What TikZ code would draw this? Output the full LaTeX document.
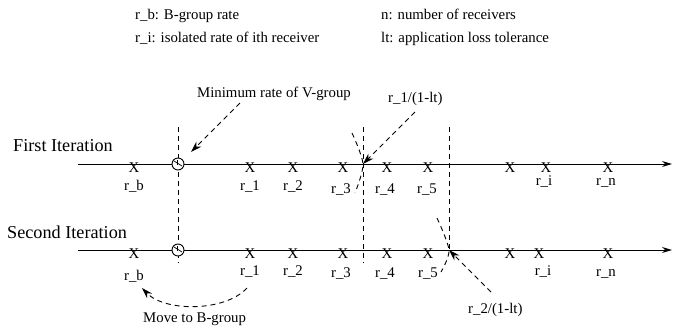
\documentclass[tikz,border=0pt]{standalone}
\usepackage{fontspec}
\setmainfont{Liberation Serif}
\usetikzlibrary{arrows.meta}
\begin{document}
\begin{tikzpicture}[x=1pt,y=-1pt,
  txt/.style={inner sep=0pt, anchor=base west, font=\fontsize{14.8}{17}\selectfont},
  big/.style={inner sep=0pt, anchor=base west, font=\fontsize{18.2}{22}\selectfont},
  lab/.style={inner sep=0pt, anchor=base, font=\fontsize{14.8}{17}\selectfont},
  xm/.style={inner sep=0pt, anchor=base, font=\fontsize{14.8}{17}\selectfont},
  axisline/.style={line width=1pt, -{Stealth[length=10pt,width=6pt]}},
  vdash/.style={line width=0.9pt, dash pattern=on 5pt off 4pt},
  darrow/.style={line width=0.9pt, dash pattern=on 5pt off 4pt, -{Stealth[length=11pt,width=7pt]}},
  dcurve/.style={line width=0.9pt, dash pattern=on 5pt off 4pt},
  ratecircle/.style={circle, draw, line width=0.9pt, minimum size=12pt, inner sep=0pt, fill=white},
]
\useasboundingbox (0,0) rectangle (673,333);

% legend
\node[txt] (leg1) at (135,19) {r\_b: B-group rate};
\node[txt] (leg2) at (135,42) {r\_i: isolated rate of ith receiver};
\node[txt] (leg3) at (381,19) {n: number of receivers};
\node[txt] (leg4) at (381,42) {lt: application loss tolerance};

% annotations
\node[txt] (minv) at (197,97) {Minimum rate of V-group};
\node[txt] (r1lt) at (388,102) {r\_1/(1-lt)};
\node[txt] (r2lt) at (468,313) {r\_2/(1-lt)};
\node[txt] (moveb) at (143,322) {Move to B-group};
\node[big] (it1) at (13,151) {First Iteration};
\node[big] (it2) at (7,238) {Second Iteration};

% dashed verticals
\coordinate (v1t) at (178,127); \coordinate (v1b) at (178,263);
\coordinate (v2t) at (363,127); \coordinate (v2b) at (363,263);
\coordinate (v3t) at (449,127); \coordinate (v3b) at (449,250);
\draw[vdash] (v1t) -- (v1b);
\draw[vdash] (v2t) -- (v2b);
\draw[vdash] (v3t) -- (v3b);

% axes
\coordinate (a1s) at (78,164); \coordinate (a1e) at (672,164);
\coordinate (a2s) at (78,250); \coordinate (a2e) at (672,250);
\draw[axisline] (a1s) -- (a1e);
\draw[axisline] (a2s) -- (a2e);

% circles (minimum rate of V-group)
\node[ratecircle] (o1) at (178,164) {};
\node[ratecircle] (o2) at (178,250) {};
\foreach \o in {o1,o2}{
  \draw[line width=0.7pt] ([shift={(-4,-3)}]\o.center) -- ([shift={(4,2)}]\o.center);
  \draw[line width=0.7pt] ([shift={(-1,-4)}]\o.center) -- ([shift={(-1,1)}]\o.center);
}

% first iteration marks
\node[xm] (x1b) at (134,172) {X};
\node[xm] (x11) at (250,172) {X};
\node[xm] (x12) at (293,172) {X};
\node[xm] (x13) at (343,172) {X};
\node[xm] (x14) at (387,172) {X};
\node[xm] (x15) at (428,172) {X};
\node[xm] (x1k) at (510,172) {X};
\node[xm] (x1i) at (546,172) {X};
\node[xm] (x1n) at (608,172) {X};
\node[lab] (l1b) at (134,190) {r\_b};
\node[lab] (l11) at (250,190) {r\_1};
\node[lab] (l12) at (293,190) {r\_2};
\node[lab] (l13) at (341,193) {r\_3};
\node[lab] (l14) at (385,193) {r\_4};
\node[lab] (l15) at (427,193) {r\_5};
\node[lab] (l1i) at (544,185.5) {r\_i};
\node[lab] (l1n) at (606,185.5) {r\_n};

% second iteration marks
\node[xm] (x2b) at (134,258) {X};
\node[xm] (x21) at (250,258) {X};
\node[xm] (x22) at (293,258) {X};
\node[xm] (x23) at (343,258) {X};
\node[xm] (x24) at (387,258) {X};
\node[xm] (x25) at (428,258) {X};
\node[xm] (x2k) at (510,258) {X};
\node[xm] (x2i) at (539,258) {X};
\node[xm] (x2n) at (608,258) {X};
\node[lab] (l2b) at (134,280) {r\_b};
\node[lab] (l21) at (250,275) {r\_1};
\node[lab] (l22) at (293,275) {r\_2};
\node[lab] (l23) at (341,277) {r\_3};
\node[lab] (l24) at (385,277) {r\_4};
\node[lab] (l25) at (428,277) {r\_5};
\node[lab] (l2i) at (543,275) {r\_i};
\node[lab] (l2n) at (606,276) {r\_n};

% dashed arrows
\coordinate (m1) at (240,103); \coordinate (m2) at (191,152);
\draw[darrow] (m1) -- (m2);
\coordinate (p1) at (415,112); \coordinate (p2) at (363,164);
\draw[darrow] (p1) -- (p2);
\coordinate (q1) at (491,292); \coordinate (q2) at (449,250);
\draw[darrow] (q1) -- (q2);
\coordinate (t1) at (247,288); \coordinate (t2) at (142,288);
\draw[darrow] (t1) .. controls (225,312) and (165,312) .. (t2);

% arcs marking the thresholds
\draw[dcurve] plot[smooth] coordinates {(352,133) (363,164) (355,193)};
\draw[dcurve] plot[smooth] coordinates {(437,218) (449,250) (441,272)};
\end{tikzpicture}
\end{document}
